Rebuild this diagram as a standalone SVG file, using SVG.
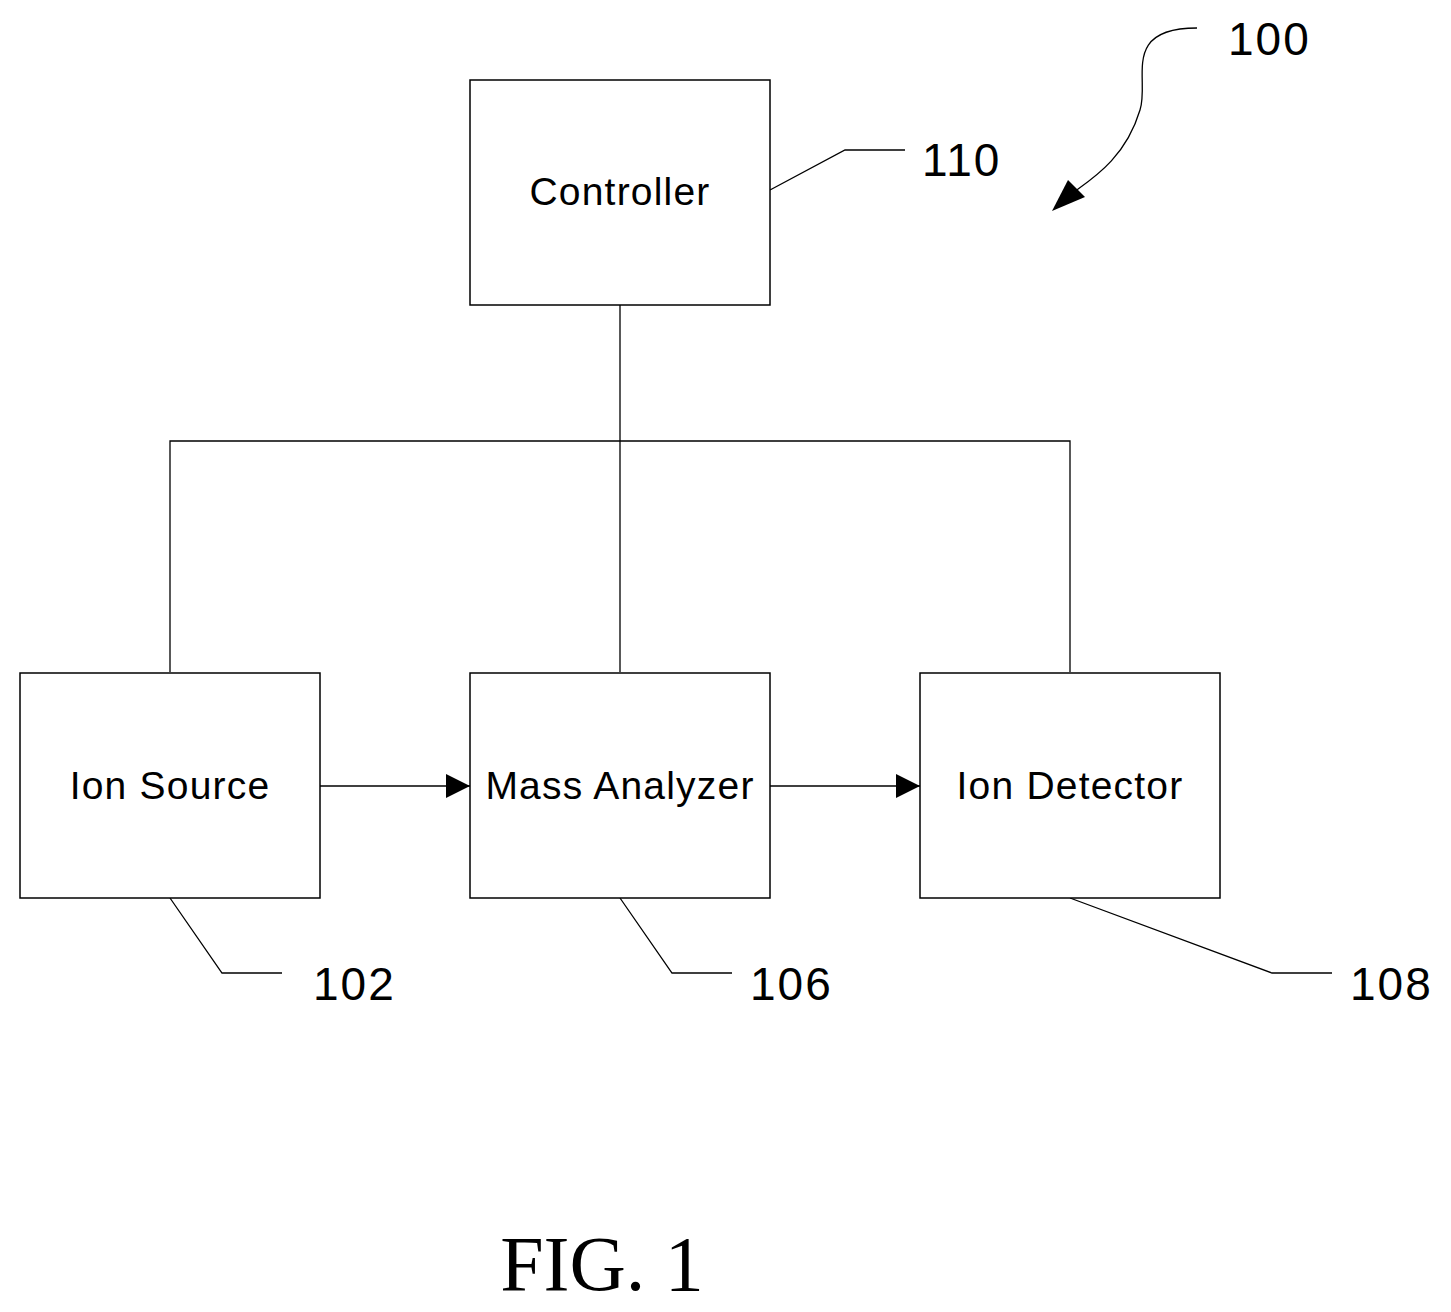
<svg xmlns="http://www.w3.org/2000/svg" width="1451" height="1312" viewBox="0 0 1451 1312">
<style>
.box{fill:#fff;stroke:#000;stroke-width:1.5}
.ln{fill:none;stroke:#000;stroke-width:1.3}
.t{font-family:"Liberation Sans",Arial,sans-serif;font-size:39px;letter-spacing:1.2px;text-anchor:middle}
.n{font-family:"Liberation Sans",Arial,sans-serif;font-size:46px;letter-spacing:2px}
</style>
<defs><marker id="a" viewBox="0 0 10 10" refX="10" refY="5" markerWidth="24" markerHeight="24" markerUnits="userSpaceOnUse" orient="auto"><path d="M0,0L10,5L0,10z"/></marker></defs>
<rect width="1451" height="1312" fill="#fff"/>
<g id="connectors">
<path class="ln" d="M620,305V672M170,672V441H1070V672"/>
<path class="ln" d="M320,786H470" marker-end="url(#a)"/>
<path class="ln" d="M770,786H920" marker-end="url(#a)"/>
<path class="ln" d="M770,190L845,150H905"/>
<path class="ln" d="M170,898L222,973H282"/>
<path class="ln" d="M620,898L672,973H732"/>
<path class="ln" d="M1070,898L1272,973H1332"/>
<path class="ln" d="M1197,28C1120,28 1150,80 1140,110C1125,160 1090,180 1070,195"/>
<path d="M1052,211L1068,180L1085,197z"/>
</g>
<g id="controller"><rect class="box" x="470" y="80" width="300" height="225"/><text class="t" x="620" y="205">Controller</text></g>
<g id="ionsource"><rect class="box" x="20" y="673" width="300" height="225"/><text class="t" x="170" y="799">Ion Source</text></g>
<g id="massanalyzer"><rect class="box" x="470" y="673" width="300" height="225"/><text class="t" x="620" y="799">Mass Analyzer</text></g>
<g id="iondetector"><rect class="box" x="920" y="673" width="300" height="225"/><text class="t" x="1070" y="799">Ion Detector</text></g>
<text class="n" x="922" y="176">110</text>
<text class="n" x="1228" y="55">100</text>
<text class="n" x="313" y="1000">102</text>
<text class="n" x="750" y="1000">106</text>
<text class="n" x="1350" y="1000">108</text>
<text x="602" y="1290" font-family="Liberation Serif,serif" font-size="78" text-anchor="middle">FIG. 1</text>
</svg>
